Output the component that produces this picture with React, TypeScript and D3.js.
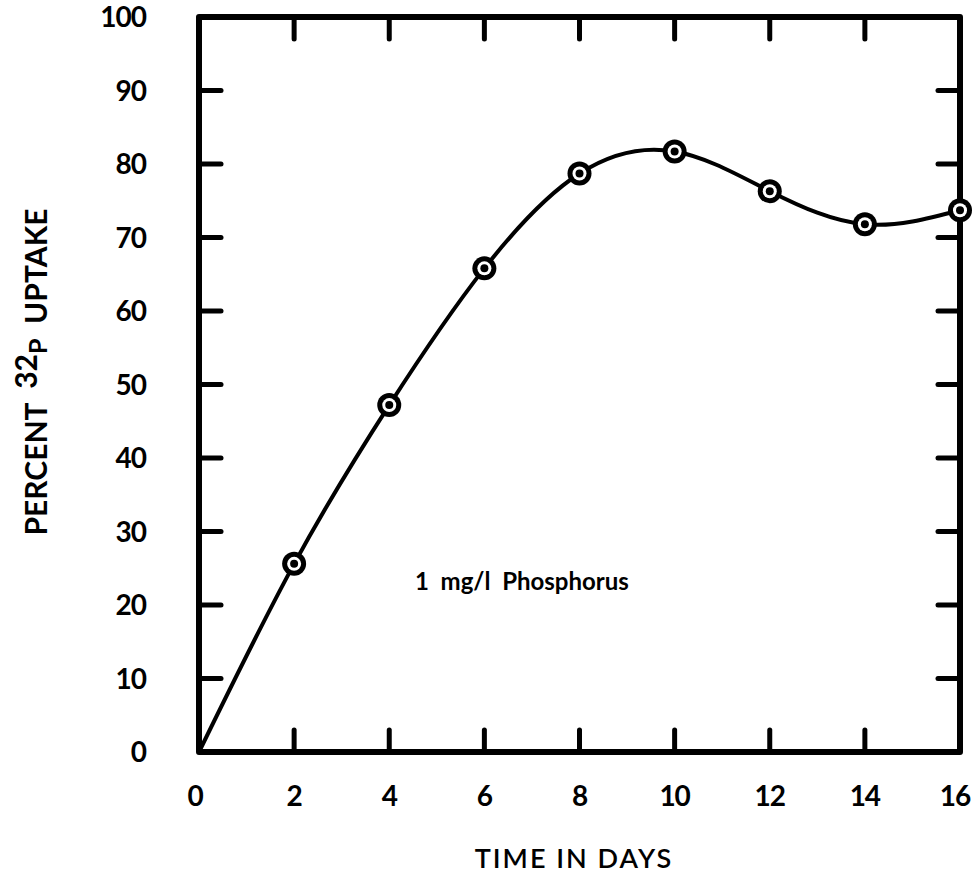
import React from "react";
import * as d3 from "d3";

const days = [0, 2, 4, 6, 8, 10, 12, 14, 16];
const uptake = [0, 25.6, 47.2, 65.8, 78.7, 81.7, 76.3, 71.8, 73.7];
const markerDays = [2, 4, 6, 8, 10, 12, 14, 16];
const markerUptake = [25.6, 47.2, 65.8, 78.7, 81.7, 76.3, 71.8, 73.7];
const xTicks = [0, 2, 4, 6, 8, 10, 12, 14, 16];
const yTicks = [0, 10, 20, 30, 40, 50, 60, 70, 80, 90, 100];
const innerXTicks = [2, 4, 6, 8, 10, 12, 14];
const innerYTicks = [10, 20, 30, 40, 50, 60, 70, 80, 90];

const W = 972;
const H = 889;
const FONT = "Lato, 'Open Sans', sans-serif";

export default function App() {
  const x = d3.scaleLinear().domain([0, 16]).range([199, 960]);
  const y = d3.scaleLinear().domain([0, 100]).range([752, 17]);
  const line = d3
    .line<number>()
    .x((d, i) => x(days[i]))
    .y((d) => y(d))
    .curve(d3.curveNatural);
  const tickLen = 22;
  return (
    <svg
      width={W}
      height={H}
      style={{ position: "absolute", left: 0, top: 0, background: "#fff" }}
    >
      {/* frame */}
      <rect
        x={x(0)}
        y={y(100)}
        width={x(16) - x(0)}
        height={y(0) - y(100)}
        fill="none"
        stroke="#000"
        strokeWidth={6}
        strokeLinejoin="round"
      />
      {innerXTicks.map((t) => (
        <g key={"xt" + t} stroke="#000" strokeWidth={5} strokeLinecap="round">
          <line x1={x(t)} x2={x(t)} y1={y(0)} y2={y(0) - tickLen} />
          <line x1={x(t)} x2={x(t)} y1={y(100)} y2={y(100) + tickLen} />
        </g>
      ))}
      {innerYTicks.map((t) => (
        <g key={"yt" + t} stroke="#000" strokeWidth={5} strokeLinecap="round">
          <line x1={x(0)} x2={x(0) + tickLen} y1={y(t)} y2={y(t)} />
          <line x1={x(16)} x2={x(16) - tickLen} y1={y(t)} y2={y(t)} />
        </g>
      ))}
      {/* tick labels */}
      {yTicks.map((t) => (
        <text
          key={"yl" + t}
          x={146}
          y={y(t) + 10}
          textAnchor="end"
          fontFamily={FONT}
          fontWeight={700}
          fontSize={28}
          letterSpacing={-1}
          fill="#000"
        >
          {t}
        </text>
      ))}
      {xTicks.map((t) => (
        <text
          key={"xl" + t}
          x={x(t) - (t === 0 ? 4 : t === 16 ? 5 : 0)}
          y={806}
          textAnchor="middle"
          fontFamily={FONT}
          fontWeight={700}
          fontSize={28}
          letterSpacing={-1}
          fill="#000"
        >
          {t}
        </text>
      ))}
      {/* curve */}
      <path d={line(uptake) || ""} fill="none" stroke="#000" strokeWidth={4} />
      {markerDays.map((d, i) => (
        <g key={"m" + d}>
          <circle cx={x(d)} cy={y(markerUptake[i])} r={12} fill="#000" />
          <circle cx={x(d)} cy={y(markerUptake[i])} r={7} fill="#fff" />
          <circle cx={x(d)} cy={y(markerUptake[i])} r={4} fill="#000" />
        </g>
      ))}
      {/* annotation */}
      <text
        x={415}
        y={590}
        fontFamily={FONT}
        fontWeight={700}
        fontSize={24}
        fill="#000"
        style={{ whiteSpace: "pre" }}
      >
        {"1  mg/l  Phosphorus"}
      </text>
      {/* axis titles */}
      <text
        x={574}
        y={868}
        textAnchor="middle"
        fontFamily={FONT}
        fontWeight={600}
        fontSize={27}
        fill="#000"
        letterSpacing={2}
      >
        TIME IN DAYS
      </text>
      <text
        transform="translate(47,372) rotate(-90)"
        textAnchor="middle"
        fontFamily={FONT}
        fontWeight={700}
        fontSize={30}
        fill="#000"
        style={{ whiteSpace: "pre" }}
      >
        <tspan>{"PERCENT  "}</tspan>
        <tspan dy={-10}>32</tspan>
        <tspan dy={10} fontSize={25}>P</tspan>
        <tspan>{"  UPTAKE"}</tspan>
      </text>
    </svg>
  );
}
